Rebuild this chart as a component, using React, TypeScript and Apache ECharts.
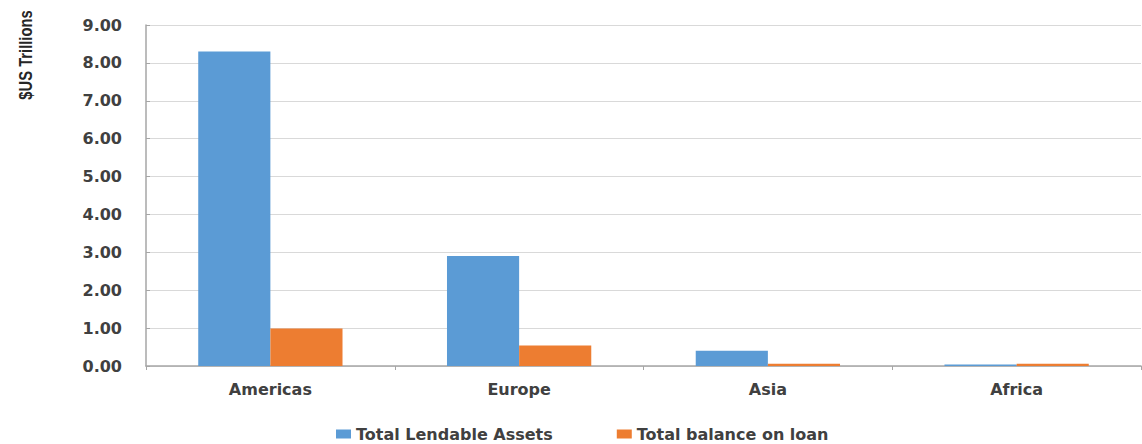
import React, { useEffect, useRef } from "react";
import * as echarts from "echarts";

const categories = ["Americas", "Europe", "Asia", "Africa"];
const lendableAssets = [8.3, 2.9, 0.4, 0.04];
const balanceOnLoan = [0.99, 0.54, 0.06, 0.06];
const seriesNames = ["Total Lendable Assets", "Total balance on loan"];
const yAxisTitle = "$US Trillions";

const FONT = "'DejaVu Sans', Verdana, sans-serif";
const TEXT = "#404040";

export default function App() {
  const ref = useRef<HTMLDivElement>(null);
  useEffect(() => {
    if (!ref.current) return;
    const chart = echarts.init(ref.current, null, { renderer: "svg" });
    chart.setOption({
      animation: false,
      backgroundColor: "#ffffff",
      grid: { left: 146, right: 1, top: 25, bottom: 78, containLabel: false },
      legend: {
        left: 331,
        top: 421,
        itemWidth: 15,
        itemHeight: 9,
        itemGap: 64,
        icon: "rect",
        textStyle: { fontFamily: FONT, fontSize: 16, fontWeight: "bold", color: TEXT },
        data: seriesNames,
      },
      graphic: [
        {
          type: "text",
          x: 25,
          y: 55,
          rotation: Math.PI / 2,
          scaleX: 0.82,
          style: {
            text: yAxisTitle,
            font: "bold 18px 'Liberation Sans Narrow', 'Liberation Sans', Arial, sans-serif",
            fill: "#262626",
            align: "center",
            verticalAlign: "middle",
          },
        },
      ],
      xAxis: {
        type: "category",
        data: categories,
        axisLine: { lineStyle: { color: "#A6A6A6", width: 1.5 } },
        axisTick: { show: true, length: 4, lineStyle: { color: "#A6A6A6" } },
        axisLabel: { fontFamily: FONT, fontSize: 16, fontWeight: "bold", color: TEXT, margin: 15 },
      },
      yAxis: {
        type: "value",
        min: 0,
        max: 9,
        interval: 1,
        axisLine: { show: true, lineStyle: { color: "#A6A6A6", width: 1.5 } },
        axisTick: { show: true, inside: true, length: 4, lineStyle: { color: "#A6A6A6" } },
        splitLine: { show: true, lineStyle: { color: "#D9D9D9", width: 1 } },
        axisLabel: {
          fontFamily: FONT,
          fontSize: 16,
          fontWeight: "bold",
          color: TEXT,
          margin: 24,
          formatter: (v: number) => v.toFixed(2),
        },
      },
      series: [
        {
          name: seriesNames[0],
          type: "bar",
          data: lendableAssets,
          barGap: "0%",
          barCategoryGap: "42%",
          itemStyle: { color: "#5B9BD5" },
        },
        {
          name: seriesNames[1],
          type: "bar",
          data: balanceOnLoan,
          itemStyle: { color: "#ED7D31" },
        },
      ],
    });
    return () => chart.dispose();
  }, []);
  return (
    <div
      ref={ref}
      style={{ position: "fixed", left: 0, top: 0, width: 1142, height: 444 }}
    />
  );
}
